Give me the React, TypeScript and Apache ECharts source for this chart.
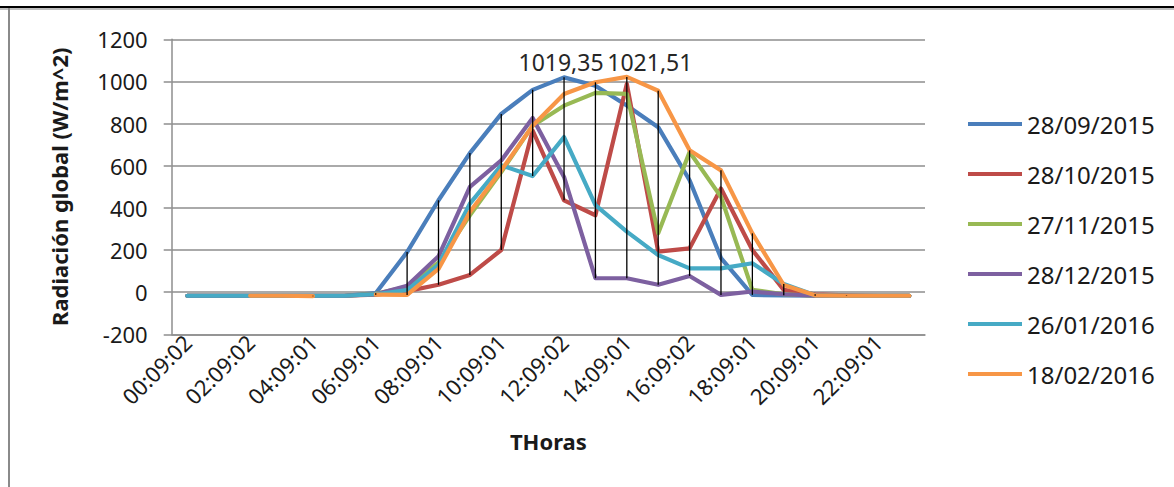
import React, { useEffect, useRef } from "react";
import * as echarts from "echarts";

const categories = [
  "00:09:02", "01:09:02", "02:09:02", "03:09:02", "04:09:01", "05:09:01",
  "06:09:01", "07:09:01", "08:09:01", "09:09:01", "10:09:01", "11:09:01",
  "12:09:02", "13:09:02", "14:09:01", "15:09:01", "16:09:02", "17:09:01",
  "18:09:01", "19:09:01", "20:09:01", "21:09:01", "22:09:01", "23:09:01",
];

const seriesNames = ["28/09/2015", "28/10/2015", "27/11/2015", "28/12/2015", "26/01/2016", "18/02/2016"];

const s280915 = [-17, -17, -17, -17, -17, -17, -5, 190, 436, 660, 846, 960, 1019.35, 980, 886, 783, 531, 162, -13, -15, -17, -17, -17, -17];
const s281015 = [-17, -17, -17, -17, -17, -17, -12, 5, 35, 82, 200, 767, 436, 365, 988, 192, 208, 492, 200, 11, -10, -15, -17, -17];
const s271115 = [-17, -17, -17, -17, -17, -17, -8, 25, 140, 365, 570, 790, 885, 946, 941, 279, 665, 452, 11, -10, -17, -17, -17, -17];
const s281215 = [-17, -17, -17, -17, -17, -17, -10, 30, 170, 500, 625, 827, 547, 66, 66, 35, 77, -13, 3, -10, -17, -17, -17, -17];
const s260116 = [-17, -17, -17, -17, -17, -17, -10, 10, 130, 420, 602, 551, 736, 413, 287, 176, 113, 113, 137, 39, -15, -17, -17, -17];
const s180216 = [null, null, -17, -17, -19, null, -12, -13, 110, 380, 578, 790, 940, 996, 1021.51, 956, 673, 578, 279, 34, -15, -17, -17, -17];

const seriesValues = [s280915, s281015, s271115, s281215, s260116, s180216];
const colors = ["#4A7EBB", "#BE4B48", "#98B954", "#7D60A0", "#46AAC5", "#F79646"];

// data labels: [series index, category index, text]
const dataLabels: [number, number, string][] = [
  [0, 12, "1019,35"],
  [5, 14, "1021,51"],
];
const labelPaddings = [[0, 6, 0, 0], [0, 0, 0, 46]];

const yMin = -200;
const yMax = 1200;
const yStep = 200;

const FONT = "'Noto Sans', 'DejaVu Sans', sans-serif";

export default function App() {
  const ref = useRef<HTMLDivElement>(null);
  useEffect(() => {
    document.body.style.margin = "0";
    if (!ref.current) return;
    const chart = echarts.init(ref.current, null, { renderer: "svg" });

    const lineSeries = seriesValues.map((vals, si) => ({
      name: seriesNames[si],
      type: "line",
      symbol: "circle",
      symbolSize: 1,
      showSymbol: true,
      z: 2 + si,
      lineStyle: { color: colors[si], width: 4.2, join: "round", cap: "round" },
      itemStyle: { color: colors[si] },
      connectNulls: false,
      labelLayout: { hideOverlap: false },
      data: vals.map((v, ci) => {
        const li = dataLabels.findIndex((d) => d[0] === si && d[1] === ci);
        if (li >= 0) {
          return {
            value: v,
            label: {
              show: true,
              position: "top",
              distance: 3,
              padding: labelPaddings[li],
              formatter: dataLabels[li][2],
              fontFamily: FONT,
              fontSize: 23,
              color: "#262626",
            },
          };
        }
        return v;
      }),
    }));

    const hiLo = categories.map((_, ci) => {
      const vals = seriesValues.map((s) => s[ci]).filter((v) => v !== null) as number[];
      return [ci, Math.max(...vals), Math.min(...vals)];
    });

    chart.setOption({
      animation: false,
      backgroundColor: "#fff",
      graphic: [
        { type: "line", shape: { x1: 0, y1: 7, x2: 1174, y2: 7 }, style: { stroke: "#000", lineWidth: 2 }, z: 100 },
        { type: "line", shape: { x1: 0, y1: 9, x2: 1174, y2: 9 }, style: { stroke: "#aaa", lineWidth: 1.5 }, z: 100 },
        { type: "line", shape: { x1: 9, y1: 8, x2: 9, y2: 487 }, style: { stroke: "#8a8a8a", lineWidth: 2 }, z: 100 },
      ],
      grid: { left: 171.7, right: 249, top: 39.3, bottom: 152.7, containLabel: false },
      legend: {
        orient: "vertical",
        left: 968,
        top: 111,
        padding: 0,
        icon: "rect",
        itemWidth: 54,
        itemHeight: 4,
        itemGap: 24,
        data: seriesNames,
        textStyle: { fontFamily: FONT, fontSize: 24, color: "#1a1a1a", lineHeight: 26 },
      },
      xAxis: {
        type: "category",
        data: categories,
        boundaryGap: true,
        name: "THoras",
        nameLocation: "middle",
        nameGap: 96,
        nameTextStyle: { fontFamily: FONT, fontSize: 22, fontWeight: "bold", color: "#1a1a1a" },
        axisLine: { onZero: false, lineStyle: { color: "#8e8e8e", width: 1.5 } },
        axisTick: { show: false },
        axisLabel: {
          interval: 1,
          rotate: 45,
          margin: 4,
          fontFamily: FONT,
          fontSize: 22,
          color: "#1a1a1a",
        },
      },
      yAxis: {
        type: "value",
        min: yMin,
        max: yMax,
        interval: yStep,
        name: "Radiación global (W/m^2)",
        nameLocation: "middle",
        nameGap: 102,
        nameTextStyle: { fontFamily: FONT, fontSize: 22, fontWeight: "bold", color: "#1a1a1a" },
        axisLine: { show: true, lineStyle: { color: "#8e8e8e", width: 1.5 } },
        axisTick: { show: true, length: 8, lineStyle: { color: "#8e8e8e", width: 1.5 } },
        splitLine: { show: true, lineStyle: { color: "#8e8e8e", width: 1.5 } },
        axisLabel: {
          margin: 24,
          fontFamily: FONT,
          fontSize: 22,
          color: "#1a1a1a",
          formatter: (v: number) => String(v),
        },
      },
      series: [
        ...lineSeries,
        {
          type: "custom",
          name: "hilo",
          z: 20,
          silent: true,
          data: hiLo,
          encode: { x: 0, y: [1, 2] },
          renderItem: (params: any, api: any) => {
            const x = api.value(0);
            const p1 = api.coord([x, api.value(1)]);
            const p2 = api.coord([x, api.value(2)]);
            return {
              type: "line",
              shape: { x1: p1[0], y1: p1[1], x2: p2[0], y2: p2[1] },
              style: { stroke: "#000", lineWidth: 1.3 },
            };
          },
        },
      ],
    });
    return () => chart.dispose();
  }, []);
  return <div ref={ref} style={{ width: 1174, height: 487 }} />;
}
